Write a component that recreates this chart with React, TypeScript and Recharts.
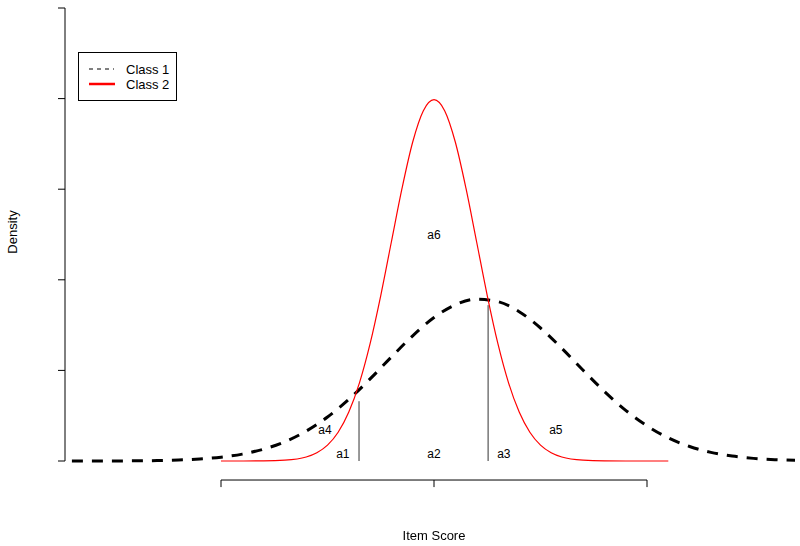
import React from 'react';
import { LineChart, Line, XAxis, YAxis, ReferenceLine, ReferenceDot } from 'recharts';

// Class 1 (dashed, black) density values
const class1X = [-8.5, -8, -7.5, -7, -6.5, -6, -5.5, -5, -4.5, -4, -3.5, -3, -2.5, -2, -1.5, -1, -0.5, 0, 0.5, 1, 1.5, 2, 2.5, 3, 3.5, 4, 4.5, 5, 5.5, 6, 6.5, 7, 7.5, 8, 8.5];
const class1Density = [0.0000, 0.0000, 0.0001, 0.0002, 0.0005, 0.0011, 0.0022, 0.0042, 0.0076, 0.0131, 0.0213, 0.0330, 0.0486, 0.0680, 0.0906, 0.1148, 0.1382, 0.1583, 0.1724, 0.1786, 0.1759, 0.1648, 0.1468, 0.1244, 0.1002, 0.0768, 0.0559, 0.0388, 0.0255, 0.0160, 0.0095, 0.0054, 0.0029, 0.0015, 0.0007];

// Class 2 (solid, red) density values
const class2X = [-5, -4.5, -4, -3.5, -3, -2.75, -2.5, -2.25, -2, -1.75, -1.5, -1.25, -1, -0.75, -0.5, -0.25, 0, 0.25, 0.5, 0.75, 1, 1.25, 1.5, 1.75, 2, 2.25, 2.5, 2.75, 3, 3.5, 4, 4.5, 5, 5.5];
const class2Density = [0.0000, 0.0000, 0.0001, 0.0009, 0.0044, 0.0091, 0.0175, 0.0317, 0.0540, 0.0863, 0.1295, 0.1826, 0.2420, 0.3011, 0.3521, 0.3867, 0.3989, 0.3867, 0.3521, 0.3011, 0.2420, 0.1826, 0.1295, 0.0863, 0.0540, 0.0317, 0.0175, 0.0091, 0.0044, 0.0009, 0.0001, 0.0000, 0.0000, 0.0000];

// Cut points (vertical segments) and their heights
const cutX = [-1.76, 1.27];
const cutHeight = [0.066, 0.172];

// Region labels
const regionLabels = ['a1', 'a2', 'a3', 'a4', 'a5', 'a6'];

const yTicks = [0, 0.1, 0.2, 0.3, 0.4, 0.5];
const xTicks = [-5, 0, 5];

const class1Data = class1X.map((x, i) => ({ x, y: class1Density[i] }));
const class2Data = class2X.map((x, i) => ({ x, y: class2Density[i] }));

const AXIS_Y = -0.021; // position of offset x-axis below the plot
const TICK_LEN = 0.0078;

const FONT = 'Liberation Sans, Arial, sans-serif';

const labelPos: Record<string, [number, number]> = {
  a1: [-2.14, 0.0077],
  a2: [0, 0.0077],
  a3: [1.64, 0.0077],
  a4: [-2.56, 0.0342],
  a5: [2.86, 0.0342],
  a6: [0, 0.2494],
};

const EmptyTick = () => <g />;

export default function App() {
  return (
    <div style={{ position: 'fixed', left: 0, top: 0, width: 800, height: 546, background: '#fff' }}>
      <LineChart width={800} height={546} margin={{ top: 8, right: 5, bottom: 85, left: 0 }}>
        <XAxis dataKey="x" type="number" domain={[-8.662, 8.474]} allowDataOverflow hide />
        <YAxis
          type="number"
          domain={[0, 0.5]}
          ticks={yTicks}
          tick={<EmptyTick />}
          tickSize={7}
          width={65}
          axisLine={{ stroke: '#000' }}
          tickLine={{ stroke: '#000' }}
        />
        {/* offset x-axis, R style */}
        <ReferenceLine
          segment={[{ x: xTicks[0], y: AXIS_Y }, { x: xTicks[xTicks.length - 1], y: AXIS_Y }]}
          stroke="#000"
          ifOverflow="visible"
        />
        {xTicks.map((t) => (
          <ReferenceLine
            key={'xt' + t}
            segment={[{ x: t, y: AXIS_Y }, { x: t, y: AXIS_Y - TICK_LEN }]}
            stroke="#000"
            ifOverflow="visible"
          />
        ))}
        {cutX.map((c, i) => (
          <ReferenceLine
            key={'cut' + i}
            segment={[{ x: c, y: 0 }, { x: c, y: cutHeight[i] }]}
            stroke="#333"
            strokeWidth={1}
            ifOverflow="visible"
          />
        ))}
        <Line
          data={class1Data}
          dataKey="y"
          type="monotone"
          stroke="#000"
          strokeWidth={3}
          strokeDasharray="11 9"
          dot={false}
          isAnimationActive={false}
        />
        <Line
          data={class2Data}
          dataKey="y"
          type="monotone"
          stroke="#ff0000"
          strokeWidth={1.2}
          dot={false}
          isAnimationActive={false}
        />
        {regionLabels.map((l) => (
          <ReferenceDot
            key={l}
            x={labelPos[l][0]}
            y={labelPos[l][1]}
            r={0}
            fill="none"
            stroke="none"
            ifOverflow="visible"
            label={{ value: l, position: 'center', fontSize: 12, fill: '#000', fontFamily: FONT }}
          />
        ))}
      </LineChart>
      {/* axis titles */}
      <div
        style={{
          position: 'absolute',
          left: 0,
          top: 526,
          width: 868,
          textAlign: 'center',
          fontFamily: FONT,
          fontSize: 13,
          lineHeight: '20px',
          color: '#000',
        }}
      >
        Item Score
      </div>
      <div
        style={{
          position: 'absolute',
          left: 13 - 50,
          top: 232 - 10,
          width: 100,
          height: 20,
          lineHeight: '20px',
          textAlign: 'center',
          transform: 'rotate(-90deg)',
          fontFamily: FONT,
          fontSize: 13,
          color: '#000',
        }}
      >
        Density
      </div>
      {/* legend */}
      <svg style={{ position: 'absolute', left: 78, top: 52 }} width={99} height={49}>
        <rect x={0.5} y={0.5} width={98} height={48} fill="#fff" stroke="#000" strokeWidth={1} />
        <line x1={11} y1={17} x2={36} y2={17} stroke="#000" strokeWidth={1} strokeDasharray="4 4" />
        <line x1={11} y1={32} x2={37} y2={32} stroke="#ff0000" strokeWidth={2.5} />
        <text x={48} y={21.5} fontFamily={FONT} fontSize={13} fill="#000">Class 1</text>
        <text x={48} y={36.5} fontFamily={FONT} fontSize={13} fill="#000">Class 2</text>
      </svg>
    </div>
  );
}
